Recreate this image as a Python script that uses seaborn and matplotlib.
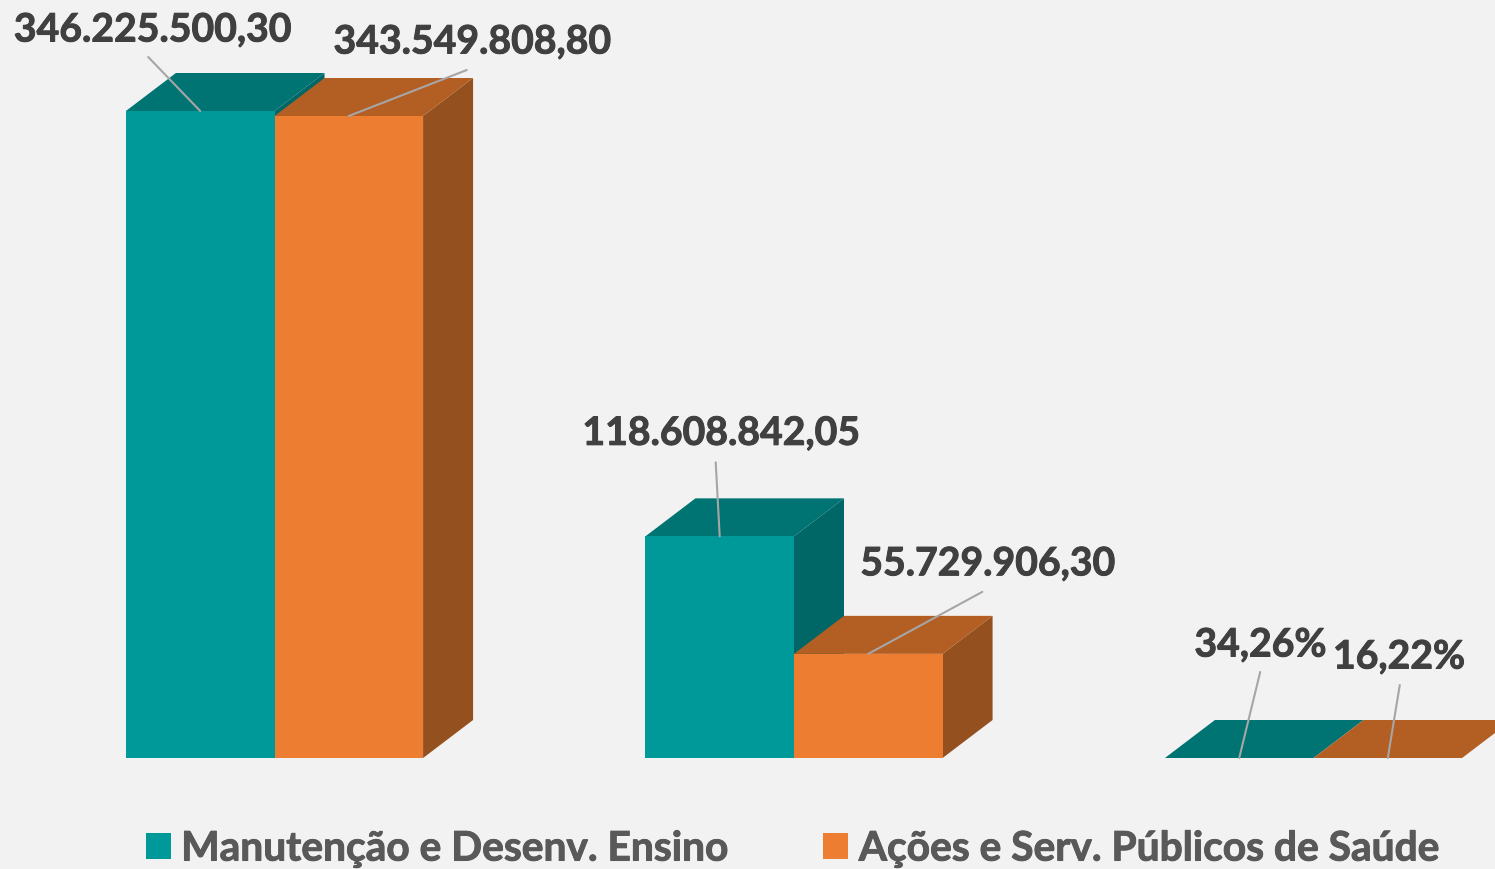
import pandas as pd
import seaborn as sns
import matplotlib.pyplot as plt
import matplotlib.patheffects as pe
from matplotlib.patches import Polygon

# chart values
grupos = ['Total', 'Mínimo', 'Percentual']
ensino = [346225500.30, 118608842.05, 34.26]
saude = [343549808.80, 55729906.30, 16.22]
rotulos_ensino = ['346.225.500,30', '118.608.842,05', '34,26%']
rotulos_saude = ['343.549.808,80', '55.729.906,30', '16,22%']
nome_ensino = 'Manutenção e Desenv. Ensino'
nome_saude = 'Ações e Serv. Públicos de Saúde'

# where the labels sit and where the leader lines stop, pixels from bar top
offs_texto_ensino = [(-48, 81), (1, 103), (21, 113)]
offs_texto_saude = [(123, 74), (119, 90), (11, 101)]
offs_linha_ensino = [(-52, 54), (-4, 74), (21, 86)]
offs_linha_saude = [(118, 46), (114, 62), (12, 73)]

sns.set_theme(style='white')
plt.rcParams['font.family'] = ['Lato', 'DejaVu Sans']

df = pd.DataFrame({'grupo': grupos * 2,
                   'valor': ensino + saude,
                   'serie': [nome_ensino] * 3 + [nome_saude] * 3})

fig = plt.figure(figsize=(14.95, 8.7), dpi=100, facecolor='#F2F2F2')
ax = fig.add_axes([0, 0, 1, 1])
ax.set_facecolor('#F2F2F2')

px_x = 1 / 519.5
px_y = ensino[0] / 647
sns.barplot(data=df, x='grupo', y='valor', hue='serie', ax=ax,
            palette=['#009999', '#ED7D31'], width=0.572, gap=0,
            saturation=1, linewidth=0, legend=True)
ax.set_xlim(-274.5 * px_x, 1220.5 * px_x)
ax.set_ylim(-111 * px_y, 759 * px_y)
ax.set_axis_off()

# fake 3d: top and side faces taken from each bar
dx = 50 * px_x
dy = 38 * px_y
cores = [('#007373', '#006666'), ('#B35E22', '#94501E')]
textos = [(rotulos_ensino, offs_texto_ensino, offs_linha_ensino),
          (rotulos_saude, offs_texto_saude, offs_linha_saude)]
grosso = [pe.withStroke(linewidth=0.7, foreground='#404040')]

for i, cont in enumerate(ax.containers):
    rots, offs_t, offs_l = textos[i]
    for j, bar in enumerate(cont):
        x0, x1 = bar.get_x(), bar.get_x() + bar.get_width()
        h = bar.get_height()
        bar.set_zorder(3)
        ax.add_patch(Polygon([(x0, h), (x1, h), (x1 + dx, h + dy), (x0 + dx, h + dy)],
                             facecolor=cores[i][0], edgecolor='none', zorder=2 + i * 0.5))
        ax.add_patch(Polygon([(x1, 0), (x1 + dx, dy), (x1 + dx, h + dy), (x1, h)],
                             facecolor=cores[i][1], edgecolor='none', zorder=1.9 + i * 0.5))
        cx = (x0 + x1) / 2
        ax.annotate('', xy=(cx, h), xytext=offs_l[j], textcoords='offset pixels',
                    arrowprops=dict(arrowstyle='-', color='#A6A6A6', lw=1.5,
                                    shrinkA=0, shrinkB=0), zorder=5)
        ax.annotate(rots[j], xy=(cx, h), xytext=offs_t[j], textcoords='offset pixels',
                    ha='center', va='center', fontsize=28.2, fontweight='bold',
                    color='#404040', zorder=6, path_effects=grosso)

leg = ax.legend(loc='lower left', bbox_to_anchor=(0.0729, -0.041), ncol=2, frameon=False,
                handlelength=0.614, handleheight=0.614,
                handletextpad=0.26, columnspacing=2.32, labelcolor='#595959',
                prop={'weight': 'bold', 'size': 29.3})
for t in leg.get_texts():
    t.set_path_effects([pe.withStroke(linewidth=0.7, foreground='#595959')])
plt.savefig('out.png', dpi=100, facecolor=fig.get_facecolor())
